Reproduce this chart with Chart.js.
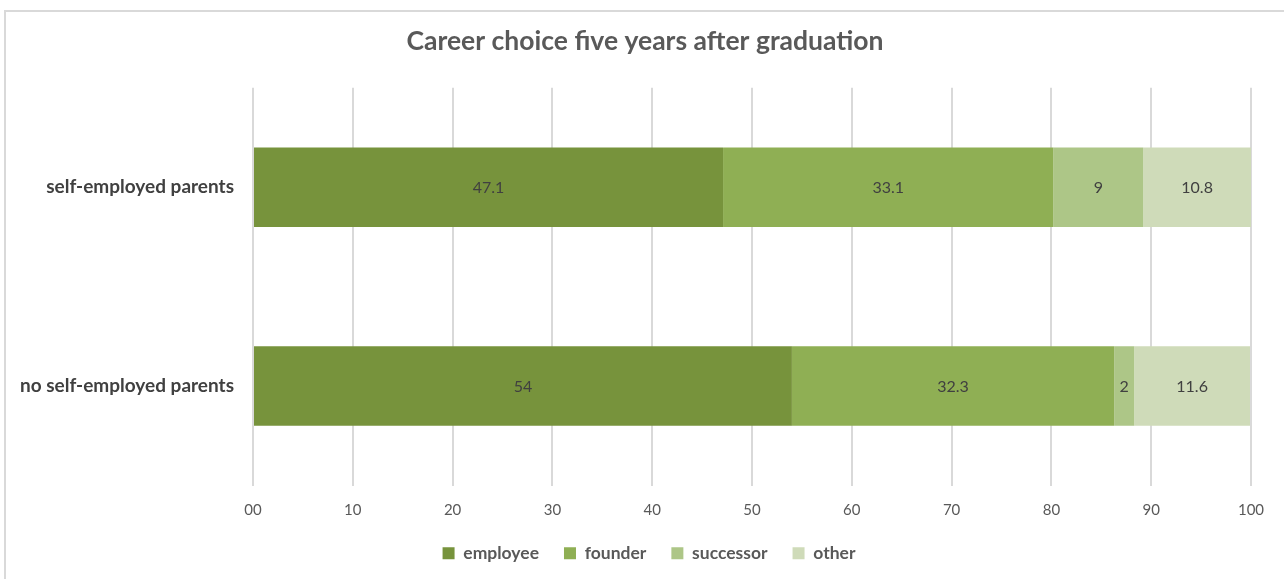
<!DOCTYPE html>
<html>
<head>
<meta charset="utf-8">
<title>Career choice five years after graduation</title>
<script src="https://cdn.jsdelivr.net/npm/chart.js@4"></script>
<style>
  html, body { margin: 0; padding: 0; background: #fff; overflow: hidden; }
  .frame {
    position: absolute; left: 4px; top: 10px;
    width: 1300px; height: 600px;
    border: 2px solid #d9d9d9; box-sizing: border-box;
  }
  #careerChart { position: absolute; left: 0; top: 0; }
</style>
</head>
<body>
<div class="frame"></div>
<canvas id="careerChart" width="1284" height="579"></canvas>
<script>
// ---- data ----
const groups = ['self-employed parents', 'no self-employed parents'];
const employee = [47.1, 54];
const founder = [33.1, 32.3];
const successor = [9, 2];
const other = [10.8, 11.6];
const xTickLabels = ['00', '10', '20', '30', '40', '50', '60', '70', '80', '90', '100'];

const FONT = 'Lato, "Open Sans", sans-serif';

// value labels in the middle of each segment
const segmentLabels = {
    id: 'segmentLabels',
    afterDatasetsDraw(chart) {
        const ctx = chart.ctx;
        ctx.save();
        ctx.font = '16px ' + FONT;
        ctx.fillStyle = '#404040';
        ctx.textAlign = 'center';
        ctx.textBaseline = 'middle';
        chart.data.datasets.forEach((ds, i) => {
            const meta = chart.getDatasetMeta(i);
            meta.data.forEach((bar, j) => {
                const p = bar.getProps(['x', 'y', 'base'], true);
                ctx.fillText(String(ds.data[j]), (p.x + p.base) / 2, p.y + 1);
            });
        });
        ctx.restore();
    }
};

// centre title and legend over the whole frame, not just the padded box
const centreBlocks = {
    id: 'centreBlocks',
    afterLayout(chart) {
        if (chart.titleBlock) { chart.titleBlock.left = 0; chart.titleBlock.right = 1290; }
        if (chart.legend) { chart.legend.left = 0; chart.legend.right = 1298; }
    }
};

new Chart(document.getElementById('careerChart').getContext('2d'), {
    type: 'bar',
    data: {
        labels: groups,
        datasets: [
            { label: 'employee', data: employee, backgroundColor: '#77933c' },
            { label: 'founder', data: founder, backgroundColor: '#8faf54' },
            { label: 'successor', data: successor, backgroundColor: '#adc687' },
            { label: 'other', data: other, backgroundColor: '#cfdbb9' },
        ],
    },
    options: {
        indexAxis: 'y',
        responsive: false,
        animation: false,
        devicePixelRatio: 1,
        barPercentage: 0.8,
        categoryPercentage: 0.5,
        layout: { padding: { left: 0, right: 33, top: 0, bottom: 7 } },
        plugins: {
            title: {
                display: true,
                text: 'Career choice five years after graduation',
                color: '#595959',
                font: { family: FONT, size: 26.5, weight: 'bold' },
                padding: { top: 26, bottom: 30 },
            },
            legend: {
                position: 'bottom',
                labels: {
                    color: '#595959',
                    font: { family: FONT, size: 17.5, weight: 'bold' },
                    boxWidth: 12,
                    boxHeight: 12,
                    padding: 25,
                },
            },
            tooltip: { enabled: false },
        },
        scales: {
            x: {
                stacked: true,
                min: 0,
                max: 100,
                ticks: {
                    stepSize: 10,
                    color: '#595959',
                    font: { family: FONT, size: 15 },
                    padding: 16,
                    callback: (v, i) => xTickLabels[i],
                },
                grid: { color: '#d9d9d9', lineWidth: 2, drawTicks: false },
                border: { display: false },
                afterFit: s => { s.height = 34; },
            },
            y: {
                stacked: true,
                ticks: {
                    color: '#404040',
                    font: { family: FONT, size: 19, weight: 'bold' },
                    padding: 11,
                },
                grid: { display: false },
                border: { display: false },
                afterFit: s => { s.width = 253; },
            },
        },
    },
    plugins: [segmentLabels, centreBlocks],
});
</script>
</body>
</html>
